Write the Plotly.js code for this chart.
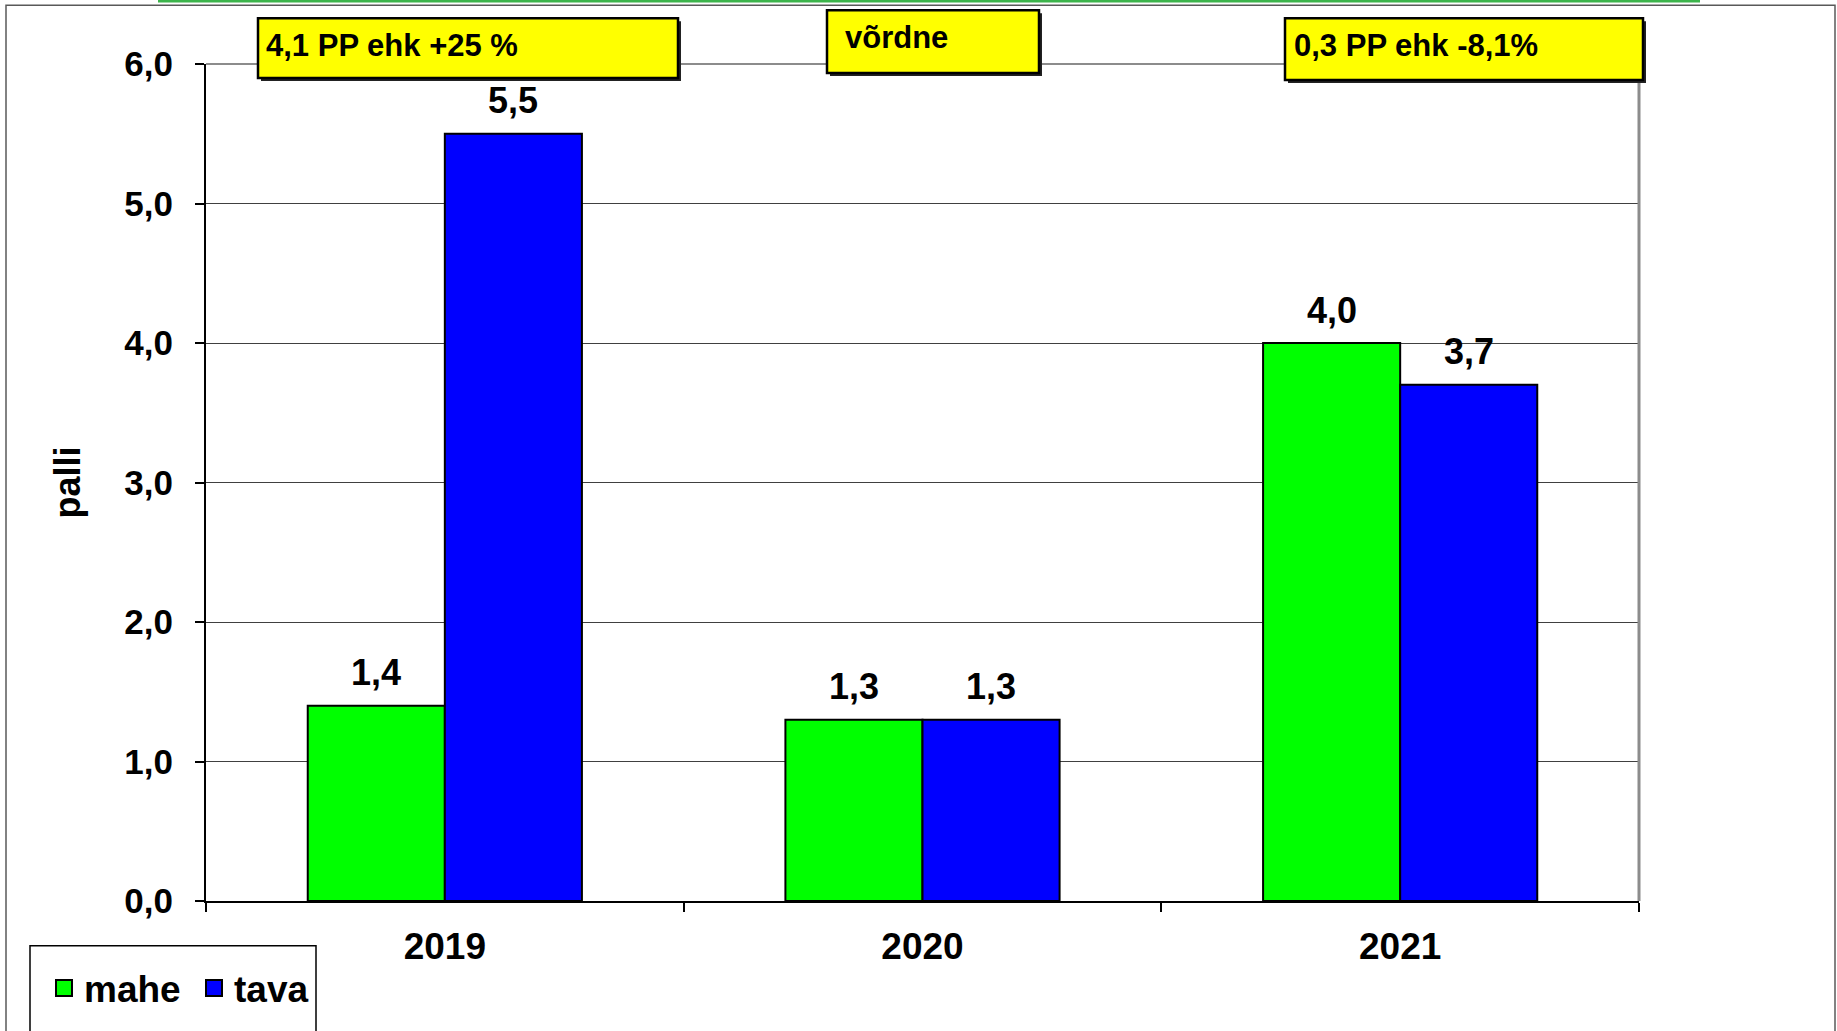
<!DOCTYPE html>
<html>
<head>
<meta charset="utf-8">
<script src="https://cdn.plot.ly/plotly-3.0.1.min.js"></script>
<style>
  html, body { margin: 0; padding: 0; background: #ffffff; }
  #chart { width: 1837px; height: 1031px; }
</style>
</head>
<body>
<div id="chart"></div>
<script>
// ---- data ----
const categories = ['2019', '2020', '2021'];
const maheValues = [1.4, 1.3, 4.0];
const tavaValues = [5.5, 1.3, 3.7];
const seriesNames = ['mahe', 'tava'];
const seriesColors = ['#00ff00', '#0000ff'];
const yTickValues = [0, 1, 2, 3, 4, 5, 6];
const yTickLabels = ['0,0', '1,0', '2,0', '3,0', '4,0', '5,0', '6,0'];
const noteTexts = ['4,1 PP ehk +25 %', 'võrdne', '0,3 PP ehk -8,1%'];
const yTitle = 'palli';

// ---- layout geometry ----
const W = 1837, H = 1031;
const M = { l: 206, r: 198, t: 64, b: 125 };
const PW = W - M.l - M.r, PH = H - M.t - M.b;
const px2x = px => (px - M.l) / PW;
const py2y = py => (H - M.b - py) / PH;
const FONT = '"Liberation Sans", Arial, sans-serif';
const bargap = 0.426;
const off = (1 - bargap) / 4;

const seriesValues = [maheValues, tavaValues];
const traces = [];
seriesValues.forEach((vals, s) => {
  traces.push({
    type: 'bar', name: seriesNames[s], x: categories, y: vals,
    legendgroup: seriesNames[s], showlegend: false,
    marker: { color: seriesColors[s], line: { color: '#000000', width: 2 } },
    hoverinfo: 'x+y'
  });
});
// legend keys (larger square symbols than the default bar key)
seriesValues.forEach((vals, s) => {
  traces.push({
    type: 'scatter', mode: 'markers', name: seriesNames[s],
    x: [categories[0]], y: [null], legendgroup: seriesNames[s], showlegend: true,
    marker: { symbol: 'square', size: 16, color: seriesColors[s], line: { color: '#000000', width: 2 } },
    hoverinfo: 'skip'
  });
});

const fmt = v => v.toFixed(1).replace('.', ',');
const annotations = [];
seriesValues.forEach((vals, s) => {
  vals.forEach((v, i) => {
    annotations.push({
      xref: 'x', yref: 'y', x: i + (s === 0 ? -off : off), y: v,
      text: fmt(v), showarrow: false, xanchor: 'center', yanchor: 'middle',
      yshift: 33,
      font: { family: FONT, size: 36, color: '#000000', weight: 'bold' }
    });
  });
});

// note boxes (pixel geometry of the layout)
const boxes = [
  { l: 258, r: 678, t: 18, b: 78, tx: 264, ty: 45 },
  { l: 827, r: 1039, t: 10, b: 73, tx: 843, ty: 37 },
  { l: 1285, r: 1643, t: 18, b: 80, tx: 1292, ty: 45 }
];

const shapes = [
  // outer frame
  { type: 'rect', xref: 'paper', yref: 'paper', x0: px2x(6), x1: px2x(1835), y0: py2y(1045), y1: py2y(5),
    line: { color: '#595959', width: 1.5 }, fillcolor: 'rgba(0,0,0,0)', layer: 'below' },
  // green line on top
  { type: 'line', xref: 'paper', yref: 'paper', x0: px2x(158), x1: px2x(1700), y0: py2y(1), y1: py2y(1),
    line: { color: '#3cb44b', width: 2.5 } },
  // plot area top and right borders
  { type: 'line', xref: 'paper', yref: 'paper', x0: 0, x1: 1, y0: 1, y1: 1,
    line: { color: '#8c8c8c', width: 2 } },
  { type: 'line', xref: 'paper', yref: 'paper', x0: 1, x1: 1, y0: 0, y1: 1,
    line: { color: '#8c8c8c', width: 3 } },
  // legend box
  { type: 'rect', xref: 'paper', yref: 'paper', x0: px2x(30), x1: px2x(316), y0: py2y(1045), y1: py2y(951),
    line: { color: '#000000', width: 1.5 }, fillcolor: '#ffffff' }
];

boxes.forEach((b, i) => {
  shapes.push({ type: 'rect', xref: 'paper', yref: 'paper',
    x0: px2x(b.l + 3), x1: px2x(b.r + 3), y0: py2y(b.b + 3), y1: py2y(b.t + 3),
    line: { width: 0 }, fillcolor: '#222222' });
  shapes.push({ type: 'rect', xref: 'paper', yref: 'paper',
    x0: px2x(b.l), x1: px2x(b.r), y0: py2y(b.b), y1: py2y(b.t),
    line: { color: '#000000', width: 2.5 }, fillcolor: '#ffff00' });
  annotations.push({
    xref: 'paper', yref: 'paper', x: px2x(b.tx), y: py2y(b.ty),
    xanchor: 'left', yanchor: 'middle', showarrow: false, text: noteTexts[i],
    font: { family: FONT, size: 31, color: '#000000', weight: 'bold' }
  });
});

const layout = {
  width: W, height: H,
  margin: M,
  paper_bgcolor: '#ffffff', plot_bgcolor: '#ffffff',
  separators: ', ',
  barmode: 'group', bargap: bargap, bargroupgap: 0,
  font: { family: FONT, color: '#000000' },
  showlegend: true,
  legend: {
    orientation: 'h', x: px2x(44), y: py2y(994), xanchor: 'left', yanchor: 'middle',
    bgcolor: 'rgba(0,0,0,0)', borderwidth: 0,
    font: { family: FONT, size: 37, color: '#000000', weight: 'bold' },
    entrywidth: 105, entrywidthmode: 'pixels', traceorder: 'normal',
    itemclick: false, itemdoubleclick: false
  },
  xaxis: {
    type: 'category', categoryorder: 'array', categoryarray: categories,
    showgrid: false, showline: true, linecolor: '#000000', linewidth: 2,
    ticks: 'outside', tickson: 'boundaries', ticklen: 9, tickcolor: '#000000', tickwidth: 1.5,
    tickfont: { family: FONT, size: 37, color: '#000000', weight: 'bold' },
    ticklabelstandoff: 12, fixedrange: true
  },
  yaxis: {
    range: [0, 6], tickvals: yTickValues, ticktext: yTickLabels,
    showgrid: true, gridcolor: '#404040', gridwidth: 1,
    zeroline: false, showline: true, linecolor: '#000000', linewidth: 2,
    ticks: 'outside', ticklen: 9, tickcolor: '#000000', tickwidth: 1.5,
    tickfont: { family: FONT, size: 35, color: '#000000', weight: 'bold' },
    ticklabelstandoff: 15,
    title: { text: yTitle, standoff: 33, font: { family: FONT, size: 36, color: '#000000', weight: 'bold' } },
    fixedrange: true
  },
  shapes: shapes,
  annotations: annotations
};

Plotly.newPlot('chart', traces, layout, { displayModeBar: false });
</script>
</body>
</html>
